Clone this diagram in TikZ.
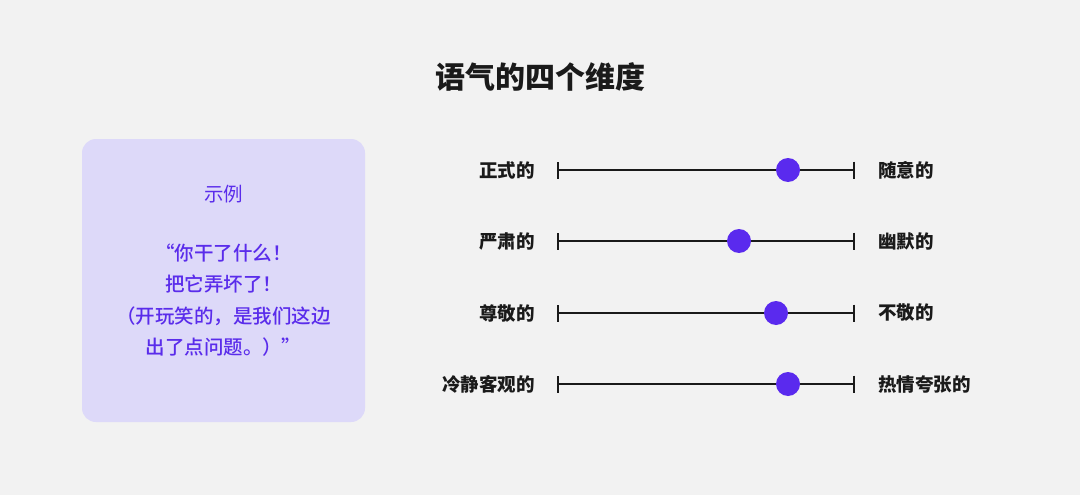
\documentclass[tikz,border=0pt]{standalone}
\usepackage{fontspec}
\newfontfamily\cjk{Noto Sans CJK SC}
\newfontfamily\cjkmed{Noto Sans CJK SC Medium}
\usetikzlibrary{arrows.meta,positioning}

\definecolor{bgcol}{HTML}{F2F2F2}
\definecolor{cardcol}{HTML}{DDD9F9}
\definecolor{inkcol}{HTML}{5A2CEB}
\definecolor{knobcol}{HTML}{5A2AEE}
\definecolor{txtcol}{HTML}{1A1A1A}

\begin{document}
\begin{tikzpicture}[x=1pt,y=-1pt,
      title/.style={font=\cjk\bfseries\fontsize{30}{34}\selectfont,text=txtcol,inner sep=0pt},
      lab/.style={font=\cjk\bfseries\fontsize{18.5}{22}\selectfont,text=txtcol,inner sep=0pt},
      card/.style={fill=cardcol,rounded corners=14pt,minimum width=283pt,
                   minimum height=283pt,inner sep=0pt},
      cardtxt/.style={font=\cjk\fontsize{19.5}{31.5}\selectfont,text=inkcol,
                      align=center,inner sep=0pt},
      quote/.style={cardtxt,font=\cjkmed\fontsize{19.5}{31.5}\selectfont},
      ruler/.style={draw=txtcol,line width=2.6pt,
                    {Bar[width=17pt,line width=2.4pt]}-{Bar[width=17pt,line width=2.4pt]}},
      knob/.style={circle,fill=knobcol,minimum size=24pt,inner sep=0pt}]
    \fill[bgcol] (0,0) rectangle (1080,495);
    \useasboundingbox (0,0) rectangle (1080,495);
    \node[title] (head) at (540,77) {语气的四个维度};
    % example card
    \node[card] (ex) at (223.5,280.5) {};
    \node[cardtxt] (exhead) at (223.5,194) {示例};
    \node[quote] (extext) at (223.5,300) {“你干了什么！\\把它弄坏了！\\（开玩笑的，是我们这边\\出了点问题。）”};
    % rulers
    \coordinate (l1) at (557,170); \coordinate (r1) at (855,170);
    \coordinate (l2) at (557,241); \coordinate (r2) at (855,241);
    \coordinate (l3) at (557,313); \coordinate (r3) at (855,313);
    \coordinate (l4) at (557,384); \coordinate (r4) at (855,384);
    \draw[ruler] (l1)--(r1); \draw[ruler] (l2)--(r2);
    \draw[ruler] (l3)--(r3); \draw[ruler] (l4)--(r4);
    \node[lab,left=22pt of l1] (a1) {正式的};
    \node[lab,right=23pt of r1] (b1) {随意的};
    \node[lab,left=22pt of l2] (a2) {严肃的};
    \node[lab,right=23pt of r2] (b2) {幽默的};
    \node[lab,left=22pt of l3] (a3) {尊敬的};
    \node[lab,right=23pt of r3] (b3) {不敬的};
    \node[lab,left=22pt of l4] (a4) {冷静客观的};
    \node[lab,right=23pt of r4] (b4) {热情夸张的};
    \node[knob] (k1) at (788,170) {};
    \node[knob] (k2) at (739,241) {};
    \node[knob] (k3) at (776,313) {};
    \node[knob] (k4) at (788,384) {};
  \end{tikzpicture}
\end{document}
